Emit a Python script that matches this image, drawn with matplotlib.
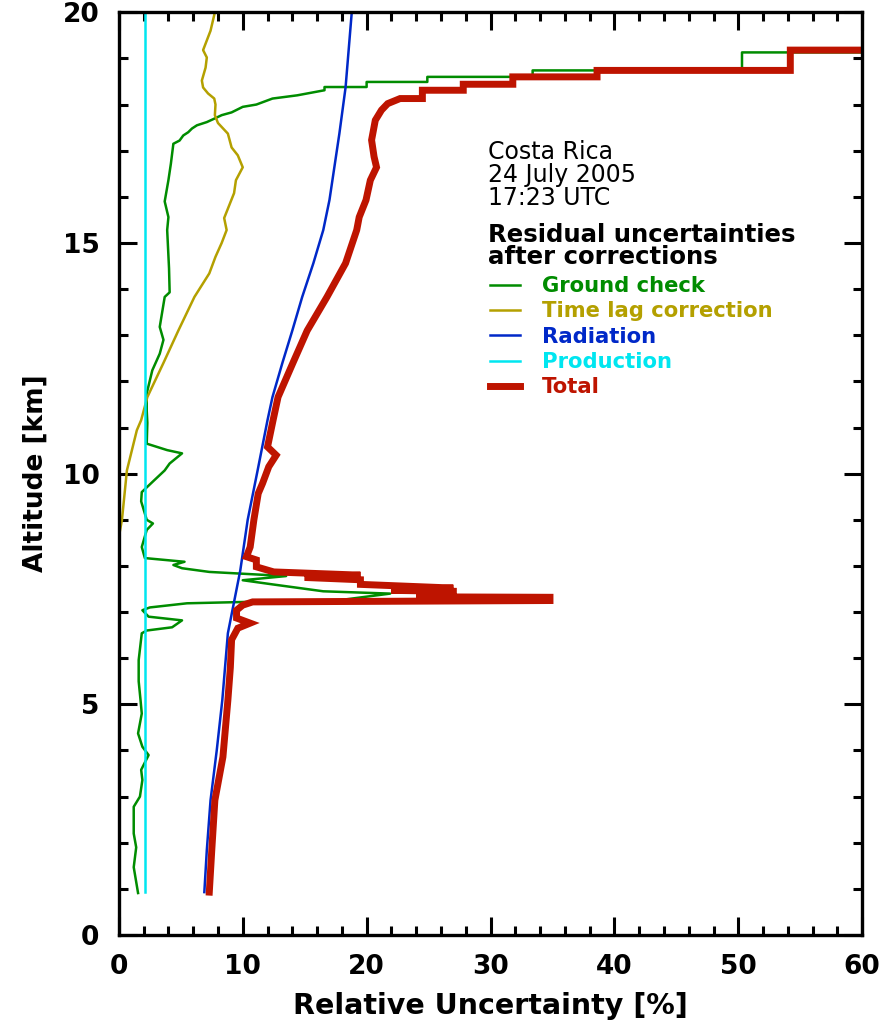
import matplotlib
matplotlib.use("Agg")
import matplotlib.pyplot as plt
from matplotlib.ticker import MultipleLocator

# values (percent, altitude km)
ground_pct = [1.55, 1.2, 1.4, 1.2, 1.2, 1.7, 1.9, 1.8, 2.4, 1.9, 1.55, 1.85, 1.75, 1.6, 1.6,
              1.85, 2.25, 4.3, 5.1, 2.4, 1.9, 2.5, 5.5, 10.3, 17.3, 21.9, 16.5, 12.4, 10.0,
              13.5, 7.3, 5.1, 4.4, 5.3, 2.1, 1.85, 2.25, 2.75, 2.25, 1.8, 1.85, 2.75, 3.7, 4.1,
              5.1, 3.9, 2.25, 2.3, 2.25, 2.25, 2.7, 3.3, 3.6, 3.3, 3.7, 4.1, 4.05, 3.9, 4.0,
              3.7, 4.0, 4.2, 4.4, 4.9, 5.2, 5.6, 5.9, 6.3, 7.1, 7.75, 8.3, 9.1, 10.0, 11.1,
              12.4, 14.4, 16.6, 16.6, 20.0, 20.0, 24.9, 24.9, 33.4, 33.4, 50.3, 50.3, 60.0]
ground_alt = [0.91, 1.47, 1.9, 2.2, 2.78, 3.0, 3.36, 3.58, 3.9, 4.08, 4.37, 4.8, 5.09, 5.5, 5.96,
              6.54, 6.6, 6.67, 6.82, 6.9, 7.04, 7.1, 7.19, 7.22, 7.24, 7.4, 7.45, 7.6, 7.69,
              7.78, 7.87, 7.95, 8.02, 8.09, 8.17, 8.41, 8.78, 8.92, 9.0, 9.4, 9.6, 9.83, 10.07,
              10.22, 10.44, 10.51, 10.65, 11.1, 11.37, 11.74, 12.24, 12.6, 12.9, 13.18, 13.83,
              13.93, 14.45, 15.28, 15.56, 15.9, 16.36, 16.72, 17.15, 17.22, 17.33, 17.4, 17.48,
              17.55, 17.62, 17.7, 17.77, 17.83, 17.95, 18.0, 18.13, 18.2, 18.31, 18.38, 18.38,
              18.49, 18.49, 18.6, 18.6, 18.74, 18.74, 19.13, 19.13]

timelag_pct = [0.0, 0.25, 0.65, 1.45, 1.8, 2.3, 3.6, 4.8, 6.1, 7.3, 7.8, 8.3, 8.7, 8.5,
               9.3, 9.45, 10.0, 9.6, 9.1, 8.8, 8.0, 7.75, 7.8, 7.7, 7.2, 6.8, 6.7, 7.0, 7.1,
               6.8, 7.1, 7.4, 7.75]
timelag_alt = [8.63, 9.0, 10.07, 10.94, 11.16, 11.66, 12.4, 13.1, 13.83, 14.34, 14.7, 15.0,
               15.28, 15.54, 16.08, 16.36, 16.64, 16.9, 17.07, 17.37, 17.6, 17.77, 18.0, 18.13,
               18.24, 18.37, 18.52, 18.8, 19.02, 19.18, 19.39, 19.6, 20.0]

radiation_pct = [6.9, 7.1, 7.4, 7.9, 8.35, 8.8, 9.8, 10.4, 11.2, 12.0, 12.4, 13.2, 14.0, 14.8,
                 15.7, 16.5, 17.0, 17.8, 18.3, 18.8]
radiation_alt = [0.93, 1.84, 2.92, 4.0, 5.09, 6.54, 7.9, 9.0, 10.07, 11.16, 11.66, 12.4, 13.1,
                 13.83, 14.56, 15.28, 15.93, 17.37, 18.37, 20.0]

production_pct = [2.1, 2.1]
production_alt = [0.93, 20.0]

total_pct = [7.3, 7.5, 7.75, 8.4, 8.8, 9.0, 9.1, 9.6, 10.6, 9.5, 9.5, 10.0, 10.8, 34.8, 34.8,
             24.0, 27.0, 27.0, 22.0, 27.0, 19.5, 19.5, 15.0, 19.5, 12.5, 11.1, 11.1, 10.3, 10.6,
             10.9, 11.25, 11.6, 12.1, 12.7, 12.0, 12.45, 12.85, 14.05, 15.2, 16.8, 18.3, 19.2,
             19.4, 19.95, 20.3, 20.8, 20.6, 20.4, 20.7, 21.2, 21.7, 22.7, 24.5, 24.5, 27.8, 27.8,
             31.8, 31.8, 38.6, 38.6, 54.2, 54.2, 60.0]
total_alt = [0.93, 1.84, 2.92, 3.86, 5.09, 5.8, 6.4, 6.65, 6.76, 6.87, 7.04, 7.15, 7.22, 7.25,
             7.32, 7.33, 7.36, 7.45, 7.47, 7.52, 7.6, 7.7, 7.75, 7.8, 7.87, 7.98, 8.13, 8.2, 8.41,
             9.0, 9.57, 9.79, 10.15, 10.4, 10.58, 11.16, 11.66, 12.4, 13.1, 13.83, 14.56, 15.28,
             15.56, 15.93, 16.36, 16.64, 16.87, 17.23, 17.66, 17.88, 18.02, 18.13, 18.13, 18.31,
             18.31, 18.44, 18.44, 18.6, 18.6, 18.74, 18.74, 19.18, 19.18]

header = "Costa Rica\n24 July 2005\n17:23 UTC"
subheader = "Residual uncertainties\nafter corrections"

c_green = "#008c00"
c_olive = "#b4a000"
c_blue = "#0028c8"
c_cyan = "#00e6f0"
c_red = "#be1400"

fig = plt.figure(figsize=(8.87, 10.23), dpi=100)
ax = fig.add_axes([0.134, 0.086, 0.838, 0.902])

ax.plot(ground_pct, ground_alt, color=c_green, lw=1.8, label="Ground check")
ax.plot(timelag_pct, timelag_alt, color=c_olive, lw=1.8, label="Time lag correction")
ax.plot(radiation_pct, radiation_alt, color=c_blue, lw=1.8, label="Radiation")
ax.plot(production_pct, production_alt, color=c_cyan, lw=1.8, label="Production")
ax.plot(total_pct, total_alt, color=c_red, lw=5, label="Total", solid_joinstyle="miter")

ax.set_xlim(0, 60)
ax.set_ylim(0, 20)
ax.xaxis.set_major_locator(MultipleLocator(10))
ax.xaxis.set_minor_locator(MultipleLocator(2))
ax.yaxis.set_major_locator(MultipleLocator(5))
ax.yaxis.set_minor_locator(MultipleLocator(1))
ax.tick_params(which="both", direction="in", top=True, right=True, width=2.2, color="black")
ax.tick_params(which="major", length=13, pad=14, labelsize=19)
ax.tick_params(which="minor", length=6.5)
for lab in ax.get_xticklabels() + ax.get_yticklabels():
    lab.set_fontweight("bold")
for s in ax.spines.values():
    s.set_linewidth(2.4)

ax.set_xlabel("Relative Uncertainty [%]", fontsize=20.5, fontweight="bold", labelpad=8)
ax.set_ylabel("Altitude [km]", fontsize=19, fontweight="bold", labelpad=10)

ax.text(0.497, 0.862, header, transform=ax.transAxes, fontsize=17, va="top", ha="left",
        linespacing=0.95)
ax.text(0.497, 0.772, subheader, transform=ax.transAxes, fontsize=17.6, fontweight="bold",
        va="top", ha="left", linespacing=0.92)

leg = ax.legend(loc="upper left", bbox_to_anchor=(0.499, 0.714), frameon=False,
                handlelength=1.42, handletextpad=1.04, labelspacing=0.25, borderpad=0,
                borderaxespad=0, labelcolor="linecolor",
                prop={"size": 15.2, "weight": "bold"})

fig.savefig("out.png", dpi=100)
